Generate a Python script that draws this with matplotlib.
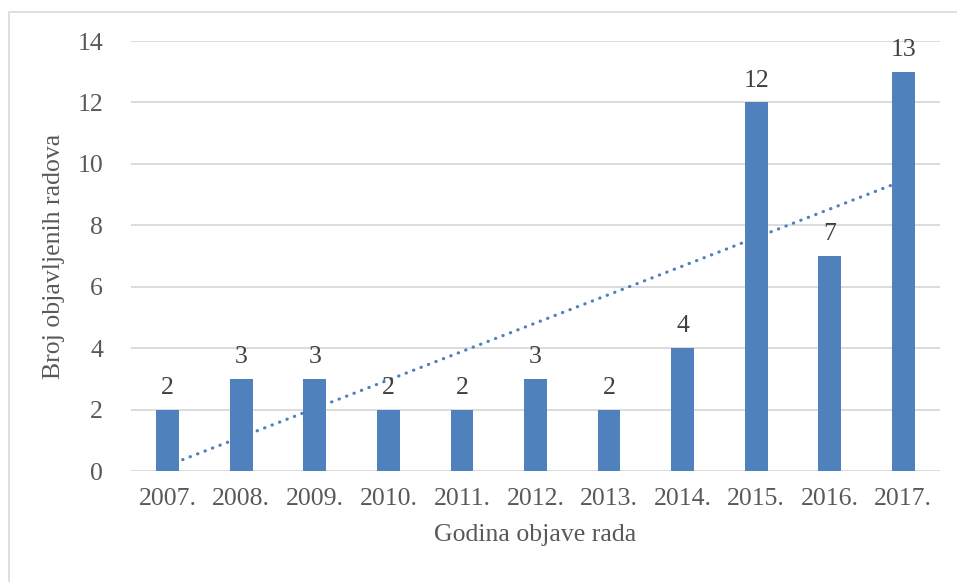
import numpy as np
import matplotlib.pyplot as plt
from matplotlib.patches import Rectangle

years = ['2007.', '2008.', '2009.', '2010.', '2011.', '2012.', '2013.', '2014.', '2015.', '2016.', '2017.']
counts = [2, 3, 3, 2, 2, 3, 2, 4, 12, 7, 13]

plt.rcParams['font.family'] = ['Liberation Serif', 'DejaVu Serif']

blue = '#4F81BD'
grey = '#595959'

fig = plt.figure(figsize=(9.57, 5.82), dpi=100)
ax = fig.add_axes([131 / 957, 1 - 471 / 582, 809 / 957, 430 / 582])

x = np.arange(len(years))
ax.bar(x, counts, width=0.31, color=blue, zorder=3)

# linear trend line (drawn behind the bars)
k, b = np.polyfit(x, counts, 1)
ax.plot(x, k * x + b, color=blue, linestyle=(0, (0.1, 2.4)), linewidth=2.3,
        dash_capstyle='round', zorder=2)

for xi, c in zip(x, counts):
    ax.text(xi, c + 0.35, str(c), ha='center', va='bottom', fontsize=18.5,
            color='#404040', zorder=4)

ax.set_xlim(-0.5, len(years) - 0.5)
ax.set_ylim(0, 14)
ax.set_yticks(range(0, 15, 2))
ax.set_xticks(x)
ax.set_xticklabels(years)
ax.tick_params(axis='both', length=0, labelsize=18.5, colors=grey)
ax.tick_params(axis='y', pad=20)
ax.tick_params(axis='x', pad=12)
ax.grid(axis='y', color='#D9D9D9', linewidth=1.3, zorder=0)
ax.set_axisbelow(True)
for s in ax.spines.values():
    s.set_visible(False)

ax.set_xlabel('Godina objave rada', fontsize=18.5, color=grey, labelpad=10)
ax.set_ylabel('Broj objavljenih radova', fontsize=18.5, color=grey, labelpad=9)

fig.patches.append(Rectangle((9 / 957, -0.1), 1.1, 1 - 12 / 582 + 0.1, transform=fig.transFigure,
                             fill=False, edgecolor='#D9D9D9', linewidth=1.2))

fig.savefig('out.png', dpi=100)
